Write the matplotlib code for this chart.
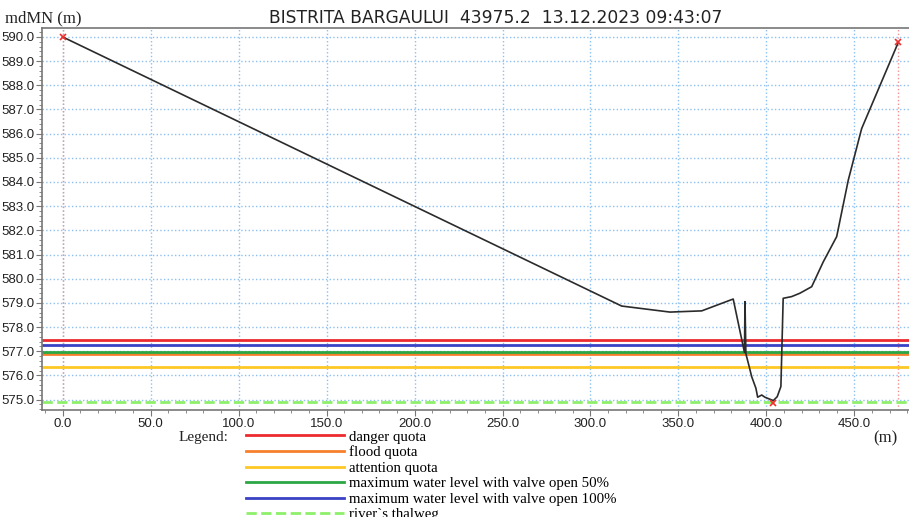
import numpy as np
import matplotlib
matplotlib.use('Agg')
import matplotlib.pyplot as plt
from matplotlib.ticker import MultipleLocator, FormatStrFormatter

# cross-section profile (distance m, elevation mdMN)
profile_x = [0.0, 317.7, 345.2, 363.2, 381.1, 387.5, 387.8, 388.3, 390.2, 391.6,
             394.0, 395.0, 397.3, 399.1, 403.9, 406.1, 408.2, 409.5, 414.3,
             419.0, 425.7, 432.3, 439.9, 446.5, 454.1, 474.9]
profile_z = [590.0, 578.87, 578.62, 578.67, 579.16, 576.95, 579.05, 576.9, 576.36, 575.95,
             575.47, 575.1, 575.19, 575.1, 574.96, 575.12, 575.54, 579.19, 579.26,
             579.4, 579.67, 580.7, 581.74, 584.08, 586.21, 589.77]

# marked points: left bank, thalweg, right bank
mark_x = [0.0, 403.9, 474.9]
mark_z = [590.0, 574.88, 589.77]

# reference levels
level_names = ['danger quota', 'flood quota', 'attention quota',
               'maximum water level with valve open 50%',
               'maximum water level with valve open 100%',
               "river`s thalweg"]
level_values = [577.47, 576.89, 576.36, 576.95, 577.27, 574.90]
level_colors = ['#ec2a2f', '#f7802c', '#fdc724', '#2aa744', '#3a42c4', '#8ef06a']

title = 'BISTRITA BARGAULUI  43975.2  13.12.2023 09:43:07'

fig = plt.figure(figsize=(9.09, 5.17), dpi=100)
ax = fig.add_axes([0.046, 0.206, 0.954, 0.739])

ax.set_xlim(-11.8, 481)
ax.set_ylim(574.55, 590.35)

ax.xaxis.set_major_locator(MultipleLocator(50))
ax.xaxis.set_minor_locator(MultipleLocator(10))
ax.yaxis.set_major_locator(MultipleLocator(1))
ax.yaxis.set_minor_locator(MultipleLocator(0.2))
ax.xaxis.set_major_formatter(FormatStrFormatter('%.1f'))
ax.yaxis.set_major_formatter(FormatStrFormatter('%.1f'))
ax.tick_params(which='both', direction='out', color='#777777', labelsize=9.5,
               labelcolor='#222222', pad=1.5)
ax.tick_params(which='major', length=4)
ax.tick_params(which='minor', length=2)
for lab in ax.get_xticklabels() + ax.get_yticklabels():
    lab.set_family('Liberation Sans')
ax.grid(which='major', color='#8cc0f2', linestyle=':', linewidth=1.0)

for s in ['top', 'left', 'bottom']:
    ax.spines[s].set_color('#777777')
    ax.spines[s].set_linewidth(1.2)
ax.spines['right'].set_visible(False)

# bank verticals
for xv in [mark_x[0], mark_x[2]]:
    ax.axvline(xv, color='#f59090', linestyle=':', linewidth=1.0)

handles = []
for name, val, col in zip(level_names, level_values, level_colors):
    ls = '--' if 'thalweg' in name else '-'
    h, = ax.plot([-11.8, 481], [val, val], color=col, linewidth=2.0, linestyle=ls,
                 label=name)
    handles.append(h)

ax.plot(profile_x, profile_z, color='#2b2b2b', linewidth=1.2, zorder=5)
ax.plot(mark_x, mark_z, linestyle='none', marker='x', color='#ee3030',
        markersize=5, markeredgewidth=1.2, zorder=6)

fig.text(0.545, 0.965, title, ha='center', va='center', fontsize=12.3,
         family='DejaVu Sans', color='#222222')
fig.text(0.005, 0.965, 'mdMN (m)', ha='left', va='center', fontsize=12,
         family='Liberation Serif', color='#222222')
fig.text(0.987, 0.153, '(m)', ha='right', va='center', fontsize=12,
         family='Liberation Serif', color='#222222')
fig.text(0.196, 0.153, 'Legend:', ha='left', va='center', fontsize=11,
         family='Liberation Serif', color='#222222')

leg = fig.legend(handles, level_names,
                 loc='upper left', bbox_to_anchor=(0.271, 0.168), frameon=False,
                 prop={'family': 'Liberation Serif', 'size': 10.7},
                 handlelength=6.6, handletextpad=0.3, labelspacing=0.14,
                 borderpad=0, borderaxespad=0)

fig.savefig('out.png', dpi=100)
